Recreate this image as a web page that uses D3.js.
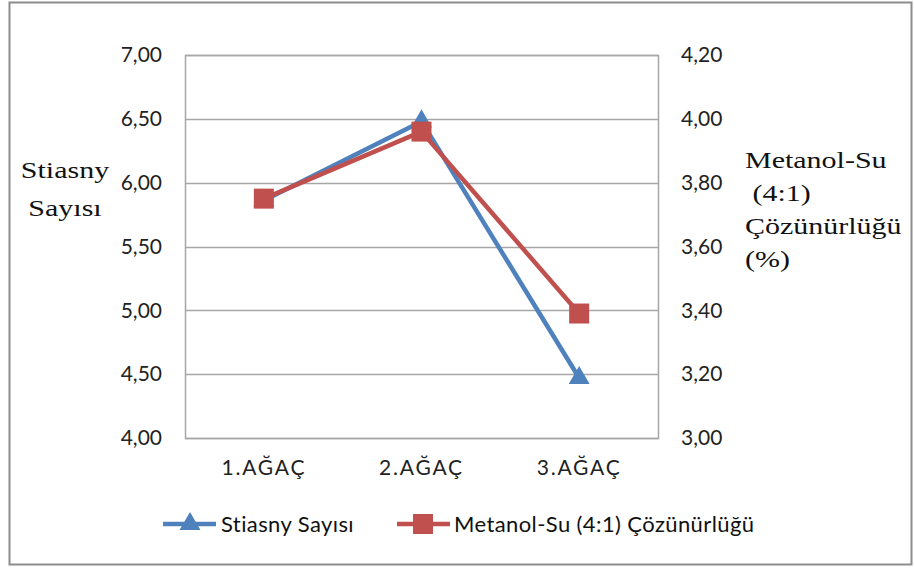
<!DOCTYPE html>
<html><head><meta charset="utf-8">
<script src="https://cdn.jsdelivr.net/npm/d3@7"></script>
<style>body{margin:0;background:#fff;} svg{display:block;}</style>
</head><body>
<svg id="chart" width="914" height="570"></svg>
<script>
const categories = ["1.AĞAÇ", "2.AĞAÇ", "3.AĞAÇ"];
const stiasnyValues = [5.86, 6.48, 4.47];
const metanolValues = [3.75, 3.96, 3.39];
const leftTicks = [4.0, 4.5, 5.0, 5.5, 6.0, 6.5, 7.0];
const rightTicks = [3.0, 3.2, 3.4, 3.6, 3.8, 4.0, 4.2];
const seriesNames = ["Stiasny Sayısı", "Metanol-Su (4:1) Çözünürlüğü"];
const leftTitle = ["Stiasny", "Sayısı"];
const rightTitle = ["Metanol-Su", " (4:1)", "Çözünürlüğü", "(%)"];

const blue = "#4F81BD", red = "#C0504D";
const svg = d3.select("#chart");
const L = 185, R = 658, T = 55, B = 438;

svg.append("rect").attr("x", 9.5).attr("y", 2.5).attr("width", 902).attr("height", 562)
  .attr("fill", "#fff").attr("stroke", "#8c8c8c").attr("stroke-width", 2);

const x = d3.scaleBand().domain(categories).range([L, R]).padding(0);
const yL = d3.scaleLinear().domain([4, 7]).range([B, T]);
const yR = d3.scaleLinear().domain([3, 4.2]).range([B, T]);
const fmt = v => d3.format(".2f")(v).replace(".", ",");

// gridlines
svg.append("g").selectAll("line").data(leftTicks).join("line")
  .attr("x1", L).attr("x2", R).attr("y1", d => Math.round(yL(d)) + 0.5).attr("y2", d => Math.round(yL(d)) + 0.5)
  .attr("stroke", "#a6a6a6").attr("stroke-width", 1.5);
// plot border
svg.append("rect").attr("x", L + 0.5).attr("y", T + 0.5).attr("width", R - L).attr("height", B - T)
  .attr("fill", "none").attr("stroke", "#a6a6a6").attr("stroke-width", 1.5);

// left axis
const axL = svg.append("g").attr("transform", `translate(${L - 23},0)`)
  .call(d3.axisLeft(yL).tickValues(leftTicks).tickFormat(fmt).tickSize(0).tickPadding(0));
axL.select(".domain").remove();
axL.selectAll("text").attr("font-family", "Lato, sans-serif").attr("font-size", 21).attr("fill", "#222");

// right axis
const axR = svg.append("g").attr("transform", `translate(${R + 23},0)`)
  .call(d3.axisRight(yR).tickValues(rightTicks).tickFormat(fmt).tickSize(0).tickPadding(0));
axR.select(".domain").remove();
axR.selectAll("text").attr("font-family", "Lato, sans-serif").attr("font-size", 21).attr("fill", "#222");

// bottom axis
const axB = svg.append("g").attr("transform", `translate(0,${B})`)
  .call(d3.axisBottom(x).tickSize(0).tickPadding(22));
axB.select(".domain").remove();
axB.selectAll("text").attr("font-family", "Lato, sans-serif").attr("font-size", 21)
  .attr("letter-spacing", "1.8px").attr("fill", "#222");

// axis titles (stretched horizontally like the reference)
svg.append("g").attr("transform", "translate(65,0) scale(1.25,1)")
  .selectAll("text").data(leftTitle).join("text")
  .attr("x", 0).attr("y", (d, i) => 178 + i * 38).attr("text-anchor", "middle")
  .attr("font-family", "'Liberation Serif', serif").attr("font-size", 24).attr("fill", "#111")
  .text(d => d);
svg.append("g").attr("transform", "translate(745,0) scale(1.25,1)")
  .selectAll("text").data(rightTitle).join("text")
  .attr("x", 0).attr("y", (d, i) => 168 + i * 33)
  .style("white-space", "pre")
  .attr("font-family", "'Liberation Serif', serif").attr("font-size", 24).attr("fill", "#111")
  .text(d => d);

const cx = d => x(d) + x.bandwidth() / 2;
const line = (ys, vals) => d3.line().x((d, i) => cx(categories[i])).y((d, i) => ys(vals[i]));

// Stiasny series
svg.append("path").datum(stiasnyValues).attr("d", line(yL, stiasnyValues))
  .attr("fill", "none").attr("stroke", blue).attr("stroke-width", 4.5).attr("stroke-linejoin", "round");
const tri = d3.symbol().type(d3.symbolTriangle).size(190);
svg.append("g").selectAll("path").data(stiasnyValues).join("path")
  .attr("d", tri).attr("transform", (d, i) => `translate(${cx(categories[i])},${yL(d)})`)
  .attr("fill", blue);

// Metanol series
svg.append("path").datum(metanolValues).attr("d", line(yR, metanolValues))
  .attr("fill", "none").attr("stroke", red).attr("stroke-width", 4.5).attr("stroke-linejoin", "round");
svg.append("g").selectAll("rect").data(metanolValues).join("rect")
  .attr("x", (d, i) => cx(categories[i]) - 10).attr("y", d => yR(d) - 10)
  .attr("width", 20).attr("height", 20).attr("fill", red);

// legend
const ly = 524;
const lg = svg.append("g");
lg.append("line").attr("x1", 163).attr("x2", 216).attr("y1", ly).attr("y2", ly).attr("stroke", blue).attr("stroke-width", 4.5);
lg.append("path").attr("d", tri).attr("transform", `translate(190,${ly})`).attr("fill", blue);
lg.append("text").attr("x", 221).attr("y", ly).attr("dy", "0.35em").text(seriesNames[0]);
lg.append("line").attr("x1", 397).attr("x2", 450).attr("y1", ly).attr("y2", ly).attr("stroke", red).attr("stroke-width", 4.5);
lg.append("rect").attr("x", 413).attr("y", ly - 10).attr("width", 20).attr("height", 20).attr("fill", red);
lg.append("text").attr("x", 454).attr("y", ly).attr("dy", "0.35em").text(seriesNames[1]);
lg.selectAll("text").attr("font-family", "Lato, sans-serif").attr("font-size", 22)
  .attr("letter-spacing", "0.4px").attr("fill", "#111");
</script>
</body></html>
